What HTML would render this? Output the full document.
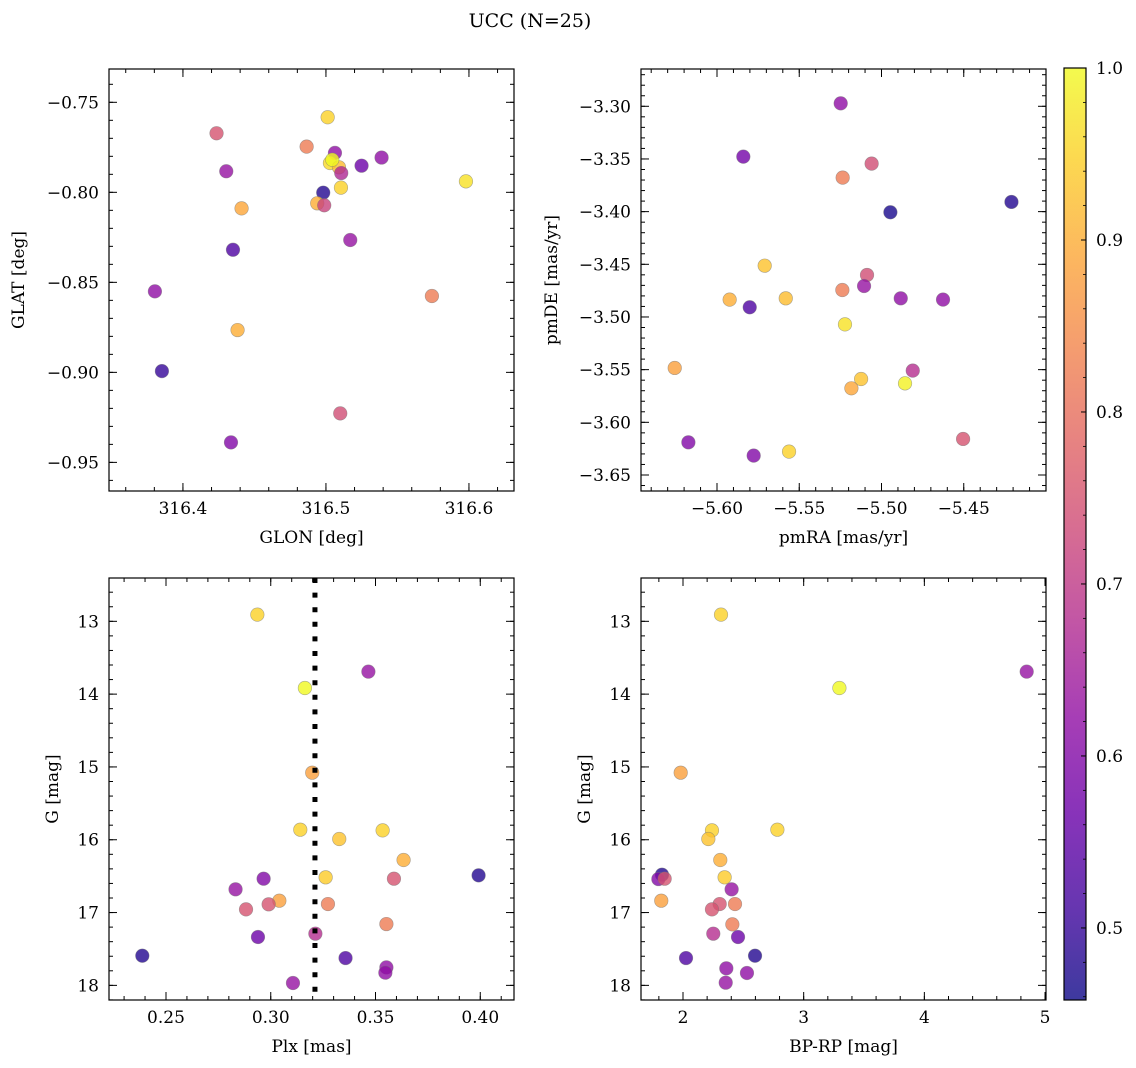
<!DOCTYPE html>
<html><head><meta charset="utf-8">
<style>
html,body{margin:0;padding:0;background:#fff;}
svg{display:block;font-family:"DejaVu Serif","Liberation Serif",serif;}
</style></head>
<body>
<svg id="fig" width="1136" height="1068" viewBox="0 0 1136 1068" xmlns="http://www.w3.org/2000/svg">
<defs>
<linearGradient id="plasmaGrad" x1="0" y1="1" x2="0" y2="0">
<stop offset="0" stop-color="#0d0887"/><stop offset="0.1" stop-color="#41049d"/><stop offset="0.2" stop-color="#6a00a8"/><stop offset="0.3" stop-color="#8f0da4"/><stop offset="0.4" stop-color="#b12a90"/><stop offset="0.5" stop-color="#cc4778"/><stop offset="0.6" stop-color="#e16462"/><stop offset="0.7" stop-color="#f2844b"/><stop offset="0.8" stop-color="#fca636"/><stop offset="0.9" stop-color="#fcce25"/><stop offset="1" stop-color="#f0f921"/>
</linearGradient>
</defs>
<text x="530" y="27" font-size="19" text-anchor="middle">UCC (N=25)</text>
</svg>
<script>
// ---- data ----
const tlGlon=[316.4235,316.4303,316.4410,316.4350,316.3804,316.4382,316.3853,316.4336,316.5012,316.4865,316.5063,316.5028,316.5091,316.5107,316.5249,316.5389,316.5105,316.4981,316.4939,316.4988,316.5170,316.5979,316.5741,316.5100,316.5044];
const tlGlat=[-0.7672,-0.7883,-0.8089,-0.8319,-0.8550,-0.8765,-0.8993,-0.9389,-0.7583,-0.7746,-0.7781,-0.7837,-0.7861,-0.7893,-0.7852,-0.7807,-0.7974,-0.8002,-0.8061,-0.8072,-0.8265,-0.7939,-0.8576,-0.9228,-0.7819];
const tlProb=[0.75,0.63,0.89,0.53,0.62,0.90,0.50,0.60,0.95,0.82,0.62,0.96,0.92,0.67,0.57,0.62,0.95,0.48,0.90,0.72,0.63,0.97,0.82,0.74,1.0];

const trPmra=[-5.5248,-5.5840,-5.5060,-5.5236,-5.4210,-5.4946,-5.5710,-5.5088,-5.5106,-5.5238,-5.5923,-5.5582,-5.4883,-5.4626,-5.5801,-5.5222,-5.6257,-5.4810,-5.5124,-5.4857,-5.5183,-5.4504,-5.6174,-5.5777,-5.5562];
const trPmde=[-3.2972,-3.3478,-3.3544,-3.3677,-3.3908,-3.4006,-3.4513,-3.4601,-3.4706,-3.4744,-3.4835,-3.4823,-3.4823,-3.4835,-3.4908,-3.5070,-3.5484,-3.5509,-3.5589,-3.5630,-3.5677,-3.6158,-3.6190,-3.6316,-3.6278];
const trProb=[0.62,0.58,0.74,0.82,0.48,0.47,0.93,0.74,0.63,0.82,0.90,0.92,0.62,0.62,0.53,0.97,0.88,0.68,0.93,0.99,0.89,0.75,0.60,0.60,0.95];

const blPlx=[0.2936,0.3466,0.3163,0.3198,0.3141,0.3534,0.3327,0.3634,0.3262,0.2966,0.3588,0.3992,0.2832,0.3041,0.2990,0.2882,0.3273,0.3552,0.2939,0.3213,0.2387,0.3357,0.3552,0.3547,0.3106];
const blG=[12.908,13.691,13.916,15.079,15.862,15.871,15.990,16.278,16.516,16.535,16.535,16.489,16.681,16.837,16.887,16.956,16.883,17.158,17.336,17.290,17.593,17.625,17.753,17.826,17.968];
const blProb=[0.95,0.63,1.0,0.88,0.95,0.95,0.93,0.90,0.94,0.60,0.75,0.48,0.63,0.88,0.75,0.75,0.82,0.82,0.57,0.68,0.48,0.53,0.62,0.62,0.63];
const plxMedian=[0.3211];

const brColor=[2.315,4.848,3.296,1.981,2.240,2.782,2.210,2.309,2.345,1.826,1.796,1.848,2.403,1.820,2.304,2.240,2.431,2.409,2.456,2.251,2.597,2.025,2.359,2.530,2.354];
const brG=[12.908,13.691,13.916,15.079,15.871,15.862,15.990,16.278,16.516,16.48,16.54,16.535,16.681,16.837,16.883,16.956,16.883,17.162,17.336,17.290,17.593,17.625,17.766,17.830,17.963];
const brProb=[0.95,0.63,1.0,0.88,0.95,0.95,0.93,0.90,0.94,0.48,0.60,0.75,0.63,0.88,0.75,0.75,0.82,0.82,0.57,0.68,0.48,0.53,0.62,0.62,0.63];

const cbTicks=[0.5,0.6,0.7,0.8,0.9,1.0];
const cbMin=0.4581, cbMax=1.0;

// ---- helpers ----
const NS="http://www.w3.org/2000/svg";
const svg=document.getElementById('fig');
function mk(tag,attrs,parent){const e=document.createElementNS(NS,tag);for(const k in attrs)e.setAttribute(k,attrs[k]);(parent||svg).appendChild(e);return e;}
const plasma=[[13,8,135],[65,4,157],[106,0,168],[143,13,164],[177,42,144],[204,71,120],[225,100,98],[242,132,75],[252,166,54],[252,206,37],[240,249,33]];
function cmap(v){let t=(v-cbMin)/(cbMax-cbMin);t=Math.max(0,Math.min(1,t))*10;const i=Math.min(9,Math.floor(t)),f=t-i;const a=plasma[i],b=plasma[i+1];return 'rgb('+a.map((c,j)=>Math.round(c+(b[j]-c)*f)).join(',')+')';}
function fmt(v,d){const s=Math.abs(v).toFixed(d);return (v<0?'\u2212':'')+s;}

function panel(cfg){
  const g=mk('g',{});
  
  
  const X=v=>cfg.x0+(v-cfg.xmin)/(cfg.xmax-cfg.xmin)*cfg.w;
  const Y=cfg.invert? (v=>cfg.y0+(v-cfg.ymin)/(cfg.ymax-cfg.ymin)*cfg.h) : (v=>cfg.y0+(cfg.ymax-v)/(cfg.ymax-cfg.ymin)*cfg.h);
  const tg=mk('g',{stroke:'#000','stroke-width':1},g);
  function xt(v,len){const x=X(v);mk('line',{x1:x,x2:x,y1:cfg.y0+cfg.h,y2:cfg.y0+cfg.h-len},tg);mk('line',{x1:x,x2:x,y1:cfg.y0,y2:cfg.y0+len},tg);}
  function yt(v,len){const y=Y(v);mk('line',{x1:cfg.x0,x2:cfg.x0+len,y1:y,y2:y},tg);mk('line',{x1:cfg.x0+cfg.w,x2:cfg.x0+cfg.w-len,y1:y,y2:y},tg);}
  for(let k=Math.ceil(cfg.xmin/cfg.xminor-1e-6);k*cfg.xminor<=cfg.xmax+1e-9;k++)xt(k*cfg.xminor,4);
  for(let k=Math.ceil(cfg.ymin/cfg.yminor-1e-6);k*cfg.yminor<=cfg.ymax+1e-9;k++)yt(k*cfg.yminor,4);
  cfg.xticks.forEach(v=>{xt(v,8);const t=mk('text',{x:X(v),y:cfg.y0+cfg.h+23,'font-size':17,'text-anchor':'middle'},g);t.textContent=fmt(v,cfg.xd);
    
    });
  cfg.yticks.forEach(v=>{yt(v,8);const t=mk('text',{x:cfg.x0-10,y:Y(v)+6,'font-size':17,'text-anchor':'end'},g);t.textContent=fmt(v,cfg.yd);
    
    });
  const pg=mk('g',{},g);
  
  
  cfg.xs.forEach((v,i)=>{const c=mk('circle',{cx:X(v),cy:Y(cfg.ys[i]),r:6.8,fill:cmap(cfg.c[i]),'fill-opacity':0.8,stroke:'#777','stroke-opacity':0.6,'stroke-width':0.6},pg);
    
    });
  if(cfg.vline){cfg.vline.forEach(v=>{const l=mk('line',{x1:X(v),x2:X(v),y1:cfg.y0,y2:cfg.y0+cfg.h,stroke:'#000','stroke-width':5,'stroke-dasharray':'5 9.6'},g);
    
    });}
  const fr=mk('rect',{x:cfg.x0,y:cfg.y0,width:cfg.w,height:cfg.h,fill:'none',stroke:'#000','stroke-width':1.2},g);
  
  
  const xl=mk('text',{x:cfg.x0+cfg.w/2,y:cfg.y0+cfg.h+52,'font-size':17,'text-anchor':'middle'},g);xl.textContent=cfg.xlabel;
  
  
  const yx=cfg.ylx, yy=cfg.y0+cfg.h/2;
  const yl=mk('text',{x:yx,y:yy,'font-size':17,'text-anchor':'middle',transform:'rotate(-90 '+yx+' '+yy+')'},g);yl.textContent=cfg.ylabel;
  
  
}

panel({name:'glon-glat-panel',x0:109,y0:69,w:405,h:422,xmin:316.3483,xmax:316.6315,ymin:-0.9659,ymax:-0.7315,
  xticks:[316.4,316.5,316.6],xd:1,yticks:[-0.75,-0.80,-0.85,-0.90,-0.95],yd:2,xminor:0.02,yminor:0.01,
  xs:tlGlon,ys:tlGlat,c:tlProb,xlabel:'GLON [deg]',ylabel:'GLAT [deg]',ylx:24});
panel({name:'pmra-pmde-panel',x0:641,y0:69,w:405,h:422,xmin:-5.6462,xmax:-5.4000,ymin:-3.6652,ymax:-3.2646,
  xticks:[-5.60,-5.55,-5.50,-5.45],xd:2,yticks:[-3.30,-3.35,-3.40,-3.45,-3.50,-3.55,-3.60,-3.65],yd:2,xminor:0.01,yminor:0.01,
  xs:trPmra,ys:trPmde,c:trProb,xlabel:'pmRA [mas/yr]',ylabel:'pmDE [mas/yr]',ylx:557});
panel({name:'plx-g-panel',x0:109,y0:578,w:405,h:422,xmin:0.2228,xmax:0.4161,ymin:12.405,ymax:18.201,invert:true,
  xticks:[0.25,0.30,0.35,0.40],xd:2,yticks:[13,14,15,16,17,18],yd:0,xminor:0.01,yminor:0.2,
  xs:blPlx,ys:blG,c:blProb,vline:plxMedian,xlabel:'Plx [mas]',ylabel:'G [mag]',ylx:58});
panel({name:'color-magnitude-panel',x0:641,y0:578,w:405,h:422,xmin:1.652,xmax:5.008,ymin:12.405,ymax:18.201,invert:true,
  xticks:[2,3,4,5],xd:0,yticks:[13,14,15,16,17,18],yd:0,xminor:0.2,yminor:0.2,
  xs:brColor,ys:brG,c:brProb,xlabel:'BP-RP [mag]',ylabel:'G [mag]',ylx:590});

const cb=mk('g',{});


const cbx=1064,cby=68,cbw=22,cbh=932;
mk('rect',{x:cbx,y:cby,width:cbw,height:cbh,fill:'url(#plasmaGrad)','fill-opacity':0.8},cb);
mk('rect',{x:cbx,y:cby,width:cbw,height:cbh,fill:'none',stroke:'#000','stroke-width':1.2},cb);
const CY=v=>cby+(cbMax-v)/(cbMax-cbMin)*cbh;
cbTicks.forEach(v=>{const y=CY(v);mk('line',{x1:cbx+cbw,x2:cbx+cbw-5,y1:y,y2:y,stroke:'#000','stroke-width':1},cb);
  const t=mk('text',{x:cbx+cbw+10,y:y+6,'font-size':17},cb);t.textContent=v.toFixed(1);
  
  });
for(let v=0.46;v<=1.0001;v+=0.02){const y=CY(v);mk('line',{x1:cbx+cbw,x2:cbx+cbw-3,y1:y,y2:y,stroke:'#000','stroke-width':0.8},cb);}
</script>
</body></html>
